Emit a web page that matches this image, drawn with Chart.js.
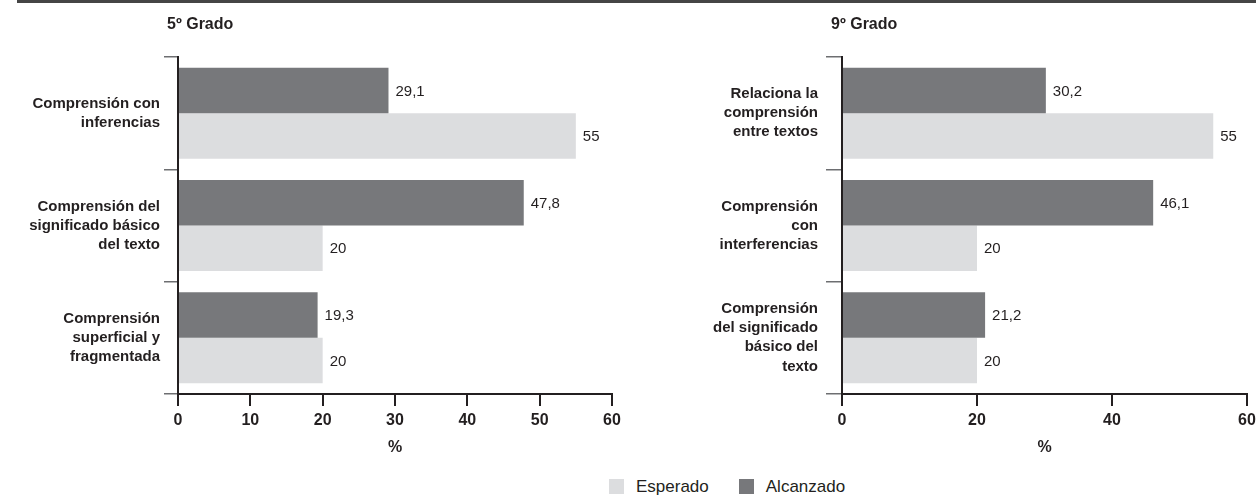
<!DOCTYPE html>
<html>
<head>
<meta charset="utf-8">
<script src="https://cdn.jsdelivr.net/npm/chart.js@4.4.1/dist/chart.umd.min.js"></script>
<style>
  html, body { margin: 0; padding: 0; background: #fff; }
  body { width: 1256px; height: 496px; position: relative; overflow: hidden;
         font-family: 'Liberation Sans', Arial, sans-serif; color: #231f20; }
  .rule { position: absolute; left: 17px; right: 0; top: 0; height: 3px; background: #454545; }
  .box { position: absolute; top: 0; height: 470px; }
  #legend { position: absolute; top: 477px; left: 609px; display: flex; font-size: 17px; line-height: 19px; }
  #legend .item { display: flex; align-items: center; margin-right: 30px; }
  #legend .sw { width: 15px; height: 15px; margin-right: 12px; }
</style>
</head>
<body>
<div class="rule"></div>
<div class="box" style="left:0;width:650px"><canvas id="chart5"></canvas></div>
<div class="box" style="left:660px;width:596px"><canvas id="chart9"></canvas></div>
<div id="legend"></div>

<script>
// Datos
const SERIES = ["Alcanzado", "Esperado"];
const COLORS = ["#77787b", "#dcdddf"];

const cats5 = [["Comprensión con", "inferencias"], ["Comprensión del", "significado básico", "del texto"], ["Comprensión", "superficial y", "fragmentada"]];
const alcanzado5 = [29.1, 47.8, 19.3];
const esperado5 = [55, 20, 20];
const ticks5 = [0, 10, 20, 30, 40, 50, 60];

const cats9 = [["Relaciona la", "comprensión", "entre textos"], ["Comprensión", "con", "interferencias"], ["Comprensión", "del significado", "básico del", "texto"]];
const alcanzado9 = [30.2, 46.1, 21.2];
const esperado9 = [55, 20, 20];
const ticks9 = [0, 20, 40, 60];

const FONT = "'Liberation Sans', Arial, sans-serif";
const TEXT = "#231f20";

const fmt = v => String(v).replace('.', ',');

// etiquetas de valor al final de cada barra
const valueLabels = {
    id: 'valueLabels',
    afterDatasetsDraw(chart) {
        const ctx = chart.ctx;
        ctx.save();
        ctx.font = '15px ' + FONT;
        ctx.fillStyle = TEXT;
        ctx.textBaseline = 'middle';
        chart.data.datasets.forEach((ds, i) => {
            chart.getDatasetMeta(i).data.forEach((bar, j) => {
                ctx.fillText(fmt(ds.data[j]), bar.x + 7, bar.y + 1);
            });
        });
        ctx.restore();
    }
};

// titulo "5º Grado" / "9º Grado"
const gradeTitle = {
    id: 'gradeTitle',
    afterDraw(chart, args, opts) {
        const ctx = chart.ctx;
        ctx.save();
        ctx.font = 'bold 16px ' + FONT;
        ctx.fillStyle = TEXT;
        ctx.textBaseline = 'middle';
        ctx.fillText(opts.text, chart.chartArea.left - 11, 25);
        ctx.restore();
    }
};

function makeChart(id, title, cats, alc, esp, tickVals, yWidth, padRight, padTop, labelPad, tickLen) {
    const ctx = document.getElementById(id).getContext('2d');
    return new Chart(ctx, {
        type: 'bar',
        data: {
            labels: cats,
            datasets: [
                { label: SERIES[0], data: alc, backgroundColor: COLORS[0], barPercentage: 1, categoryPercentage: 0.81 },
                { label: SERIES[1], data: esp, backgroundColor: COLORS[1], barPercentage: 1, categoryPercentage: 0.81 }
            ]
        },
        options: {
            indexAxis: 'y',
            responsive: true,
            maintainAspectRatio: false,
            animation: false,
            layout: { padding: { top: padTop, right: padRight, left: 0, bottom: 0 } },
            plugins: {
                legend: { display: false },
                tooltip: { enabled: false },
                gradeTitle: { text: title }
            },
            scales: {
                x: {
                    min: 0, max: 60,
                    afterBuildTicks: s => { s.ticks = tickVals.map(v => ({ value: v })); },
                    afterFit: s => { s.height = 76; s.paddingRight = 0; },
                    border: { display: true, color: TEXT, width: 2 },
                    grid: { drawOnChartArea: false, drawTicks: true, tickLength: 12, color: TEXT, lineWidth: 2 },
                    ticks: { color: TEXT, padding: 5, font: { family: FONT, size: 16, weight: 'bold' } },
                    title: { display: true, text: '%', color: TEXT, padding: { top: 0, bottom: 13 },
                             font: { family: FONT, size: 16, weight: 'bold' } }
                },
                y: {
                    afterFit: s => { s.width = yWidth; },
                    border: { display: true, color: TEXT, width: 2 },
                    grid: { offset: true, drawOnChartArea: false, drawTicks: true, tickLength: tickLen, color: '#6d6e71', lineWidth: 1.5 },
                    ticks: { color: TEXT, padding: labelPad, autoSkip: false,
                             font: { family: FONT, size: 15, weight: 'bold', lineHeight: 1.27 } }
                }
            }
        },
        plugins: [valueLabels, gradeTitle]
    });
}

makeChart('chart5', '5º Grado', cats5, alcanzado5, esperado5, ticks5, 178, 38, 57, 4, 14);
makeChart('chart9', '9º Grado', cats9, alcanzado9, esperado9, ticks9, 182, 9, 57, 8, 16);

// leyenda
const legend = document.getElementById('legend');
[1, 0].forEach(i => {
    legend.innerHTML += `<div class="item"><span class="sw" style="background:${COLORS[i]}"></span>${SERIES[i]}</div>`;
});
</script>
</body>
</html>
